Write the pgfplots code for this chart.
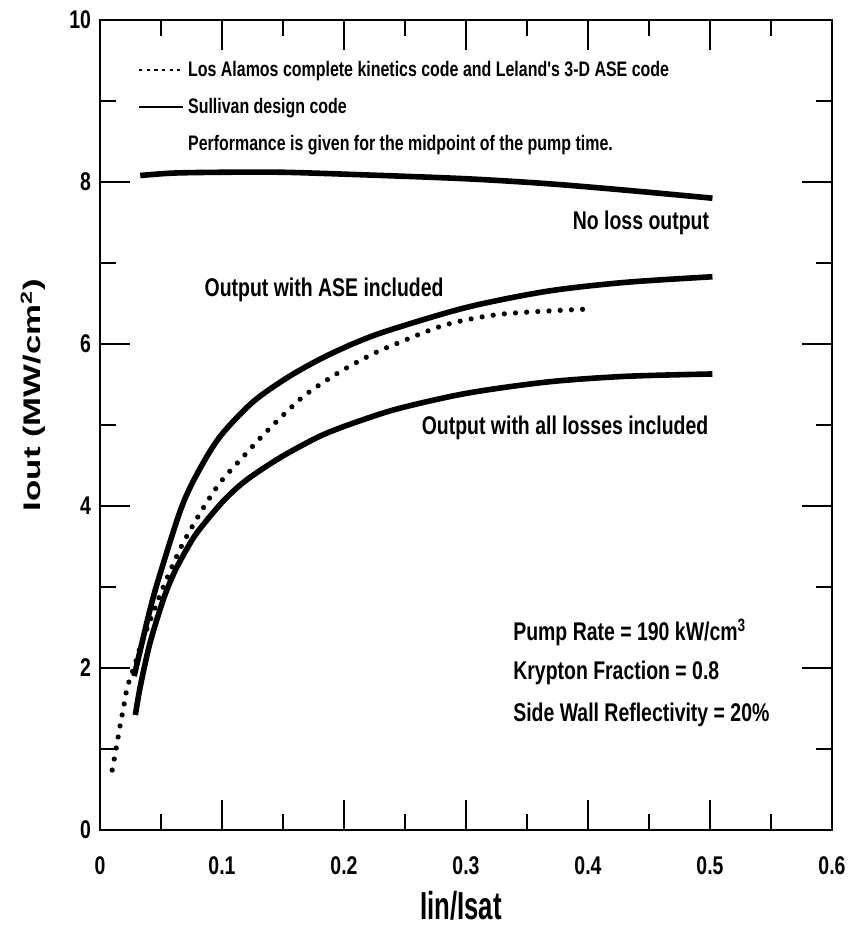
\documentclass[border=0pt]{standalone}
\usepackage{fontspec}
\setmainfont{Liberation Sans}
\newfontfamily\cond{Liberation Sans}[FakeStretch=0.76]
\newfontfamily\xcond{Liberation Sans}[FakeStretch=0.66]
\newfontfamily\wide{Liberation Sans}[FakeStretch=1.45]
\usepackage{pgfplots}
\pgfplotsset{compat=1.18}
\begin{document}
\begin{tikzpicture}
\begin{axis}[
  at={(0,0)}, anchor=south west,
  scale only axis, width=366pt, height=405pt,
  xmin=0, xmax=0.6, ymin=0, ymax=10,
  xtick={0,0.1,0.2,0.3,0.4,0.5,0.6},
  xticklabels={0,0.1,0.2,0.3,0.4,0.5,0.6},
  minor xtick={0.05,0.15,0.25,0.35,0.45,0.55},
  ytick={0,2,4,6,8,10},
  yticklabels={0,2,4,6,8,10},
  minor ytick={1,3,5,7,9},
  tick align=inside, major tick length=15pt, minor tick length=8pt,
  every tick/.style={line width=0.8pt, black},
  axis line style={line width=1.1pt},
  /pgf/number format/assume math mode=true,
  ticklabel style={font=\cond\bfseries\fontsize{12.8}{14}\selectfont},
  xticklabel style={yshift=-10pt},
  yticklabel style={xshift=-1pt},
  xlabel={Iin/Isat},
  xlabel style={font=\xcond\bfseries\fontsize{19.5}{22}\selectfont, anchor=center, at={(axis description cs:0.493,-0.094)}},
  ylabel={Iout (MW/cm\textsuperscript{2})},
  ylabel style={font=\wide\bfseries\fontsize{12}{14}\selectfont, anchor=center, rotate=0, at={(axis description cs:-0.0915,0.537)}},
  legend style={at={(axis cs:0.026,9.6)}, anchor=north west, draw=none, fill=none,
    font=\cond\bfseries\fontsize{10.5}{12.5}\selectfont, row sep=5.5pt,
    /tikz/every even column/.append style={column sep=3pt}},
  legend cell align=left,
  legend image code/.code={\draw[#1] (0pt,0pt) -- (22pt,0pt);},
]
\addlegendimage{line width=1pt, dash pattern=on 1.6pt off 2.2pt}
\addlegendentry{Los Alamos complete kinetics code and Leland's 3-D ASE code}
\addlegendimage{line width=0.9pt}
\addlegendentry{Sullivan design code}
\addlegendimage{empty legend}
\addlegendentry{Performance is given for the midpoint of the pump time.}

% No loss output
\addplot[forget plot, black, line width=2.8pt, smooth] coordinates {
(0.033,8.08) (0.06,8.11) (0.1,8.12) (0.15,8.12) (0.213,8.09) (0.3,8.04) (0.366,7.98) (0.43,7.9) (0.502,7.8)};
% Output with ASE included
\addplot[forget plot, black, line width=2.8pt, smooth] coordinates {
(0.028,1.9) (0.033,2.22) (0.041,2.72) (0.048,3.1) (0.066,3.95) (0.079,4.38) (0.098,4.85) (0.125,5.28) (0.153,5.58) (0.18,5.81) (0.207,6.0) (0.235,6.16) (0.3,6.45) (0.366,6.65) (0.43,6.76) (0.502,6.83)};
% Output with all losses included
\addplot[forget plot, black, line width=2.8pt, smooth] coordinates {
(0.029,1.42) (0.033,1.77) (0.041,2.31) (0.052,2.85) (0.06,3.15) (0.066,3.33) (0.079,3.66) (0.101,4.06) (0.12,4.32) (0.148,4.6) (0.18,4.86) (0.207,5.02) (0.244,5.2) (0.3,5.39) (0.366,5.53) (0.43,5.6) (0.502,5.63)};
% Los Alamos code (dotted)
\addplot[forget plot, black, line width=2.6pt, line cap=round, dash pattern=on 0pt off 5.6pt, smooth] coordinates {
(0.01,0.74) (0.012,0.9) (0.014,1.07) (0.016,1.25) (0.018,1.41) (0.02,1.57) (0.022,1.74) (0.025,1.89) (0.029,2.06) (0.033,2.26) (0.038,2.46) (0.043,2.66) (0.047,2.82) (0.051,2.97) (0.055,3.11) (0.059,3.25) (0.068,3.54) (0.082,3.91) (0.098,4.28) (0.115,4.57) (0.134,4.88) (0.15,5.12) (0.169,5.38) (0.197,5.66) (0.224,5.88) (0.244,6.01) (0.284,6.24) (0.33,6.37) (0.398,6.43)};

\node[font=\cond\bfseries\fontsize{12.8}{14}\selectfont, anchor=east] at (axis cs:0.505,7.49) {No loss output};
\node[font=\cond\bfseries\fontsize{12.8}{14}\selectfont, anchor=west] at (axis cs:0.08,6.67) {Output with ASE included};
\node[font=\cond\bfseries\fontsize{12.8}{14}\selectfont, anchor=west] at (axis cs:0.258,4.96) {Output with all losses included};
\node[font=\cond\bfseries\fontsize{12.8}{14}\selectfont, anchor=west] at (axis cs:0.333,2.44) {Pump Rate = 190 kW/cm\textsuperscript{3}};
\node[font=\cond\bfseries\fontsize{12.8}{14}\selectfont, anchor=west] at (axis cs:0.333,1.94) {Krypton Fraction = 0.8};
\node[font=\cond\bfseries\fontsize{12.8}{14}\selectfont, anchor=west] at (axis cs:0.333,1.42) {Side Wall Reflectivity = 20\%};
\end{axis}
\useasboundingbox (-50pt,-61pt) rectangle (380.5pt,415pt);
\end{tikzpicture}
\end{document}
